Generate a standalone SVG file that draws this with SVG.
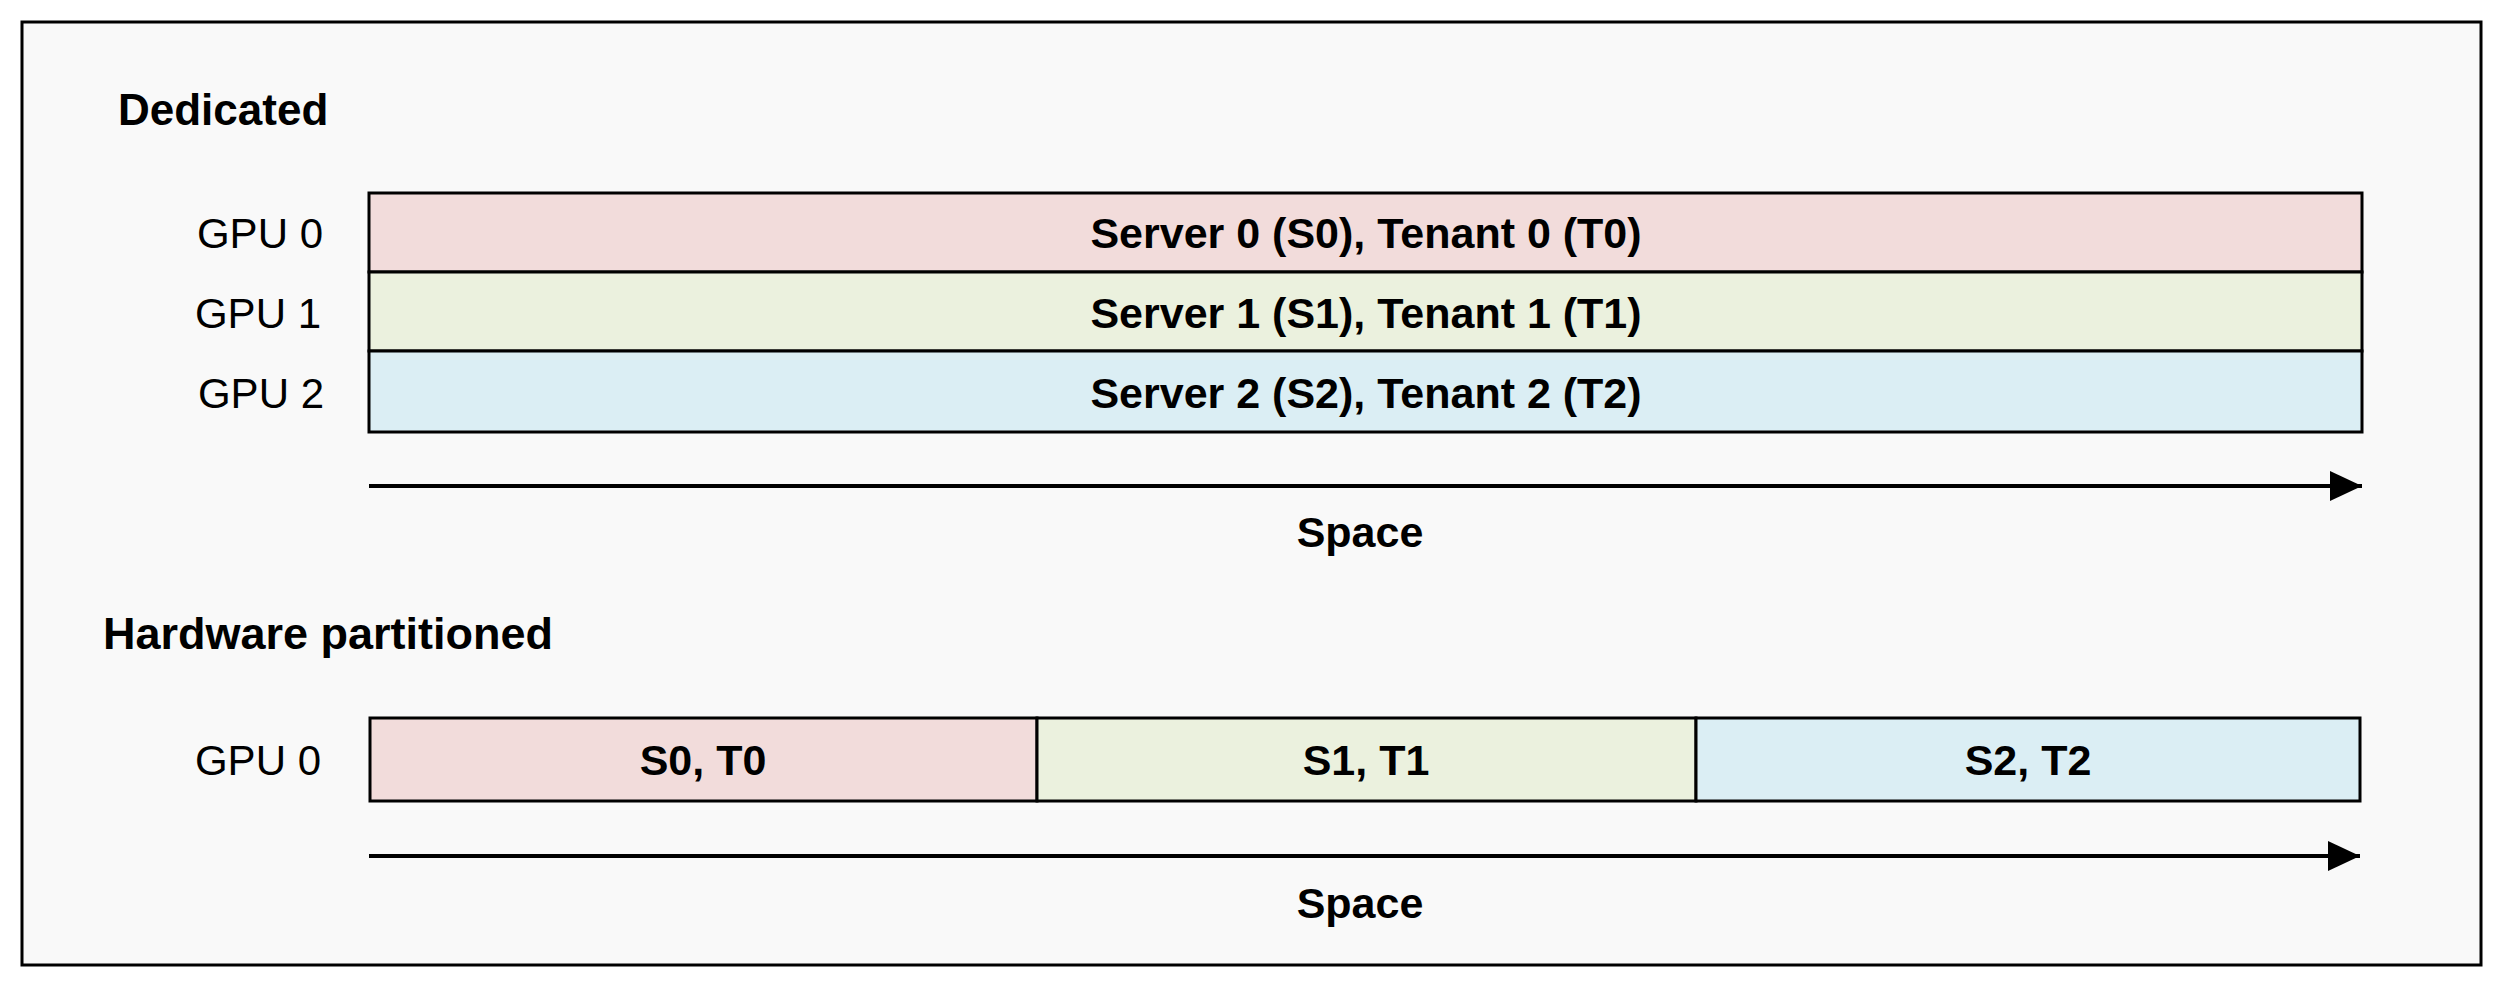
<svg xmlns="http://www.w3.org/2000/svg" width="2504" height="988" viewBox="0 0 2504 988">
<defs>
<style>
.t{font-family:"Liberation Sans",Arial,sans-serif;fill:#000}
.b{font-weight:bold;font-size:43px}
.r{font-size:42px}
.c{text-anchor:middle}
.e{text-anchor:end}
.bar{stroke:#000;stroke-width:3}
.p{fill:#f2dcdb}.g{fill:#ebf1de}.u{fill:#dbeef4}
.ax{stroke:#000;stroke-width:4;fill:none}
</style>
<marker id="ah" markerUnits="userSpaceOnUse" markerWidth="34" markerHeight="30" refX="32" refY="15" orient="auto">
<polygon points="0,0 32,15 0,30" fill="#000"/>
</marker>
</defs>
<rect x="0" y="0" width="2504" height="988" fill="#ffffff"/>
<rect id="frame" x="22" y="22" width="2459" height="943" fill="#f9f9f9" stroke="#000" stroke-width="3"/>

<text class="t b" x="118" y="125" style="font-size:44px">Dedicated</text>
<text class="t b" x="103" y="649" style="font-size:45px">Hardware partitioned</text>

<g id="gpu0-dedicated">
<rect class="bar p" x="369" y="193" width="1993" height="79"/>
<text class="t r e" x="323" y="248">GPU 0</text>
<text class="t b c" x="1366" y="248">Server 0 (S0), Tenant 0 (T0)</text>
</g>
<g id="gpu1-dedicated">
<rect class="bar g" x="369" y="272" width="1993" height="79"/>
<text class="t r e" x="321" y="328">GPU 1</text>
<text class="t b c" x="1366" y="328">Server 1 (S1), Tenant 1 (T1)</text>
</g>
<g id="gpu2-dedicated">
<rect class="bar u" x="369" y="351" width="1993" height="81"/>
<text class="t r e" x="324" y="408">GPU 2</text>
<text class="t b c" x="1366" y="408">Server 2 (S2), Tenant 2 (T2)</text>
</g>

<g id="gpu0-partitioned">
<text class="t r e" x="321" y="775">GPU 0</text>
<g id="part-s0">
<rect class="bar p" x="370" y="718" width="667" height="83"/>
<text class="t b c" x="703" y="775">S0, T0</text>
</g>
<g id="part-s1">
<rect class="bar g" x="1037" y="718" width="659" height="83"/>
<text class="t b c" x="1366" y="775">S1, T1</text>
</g>
<g id="part-s2">
<rect class="bar u" x="1696" y="718" width="664" height="83"/>
<text class="t b c" x="2028" y="775">S2, T2</text>
</g>
</g>

<g id="connectors">
<line class="ax" x1="369" y1="486" x2="2362" y2="486" marker-end="url(#ah)"/>
<line class="ax" x1="369" y1="856" x2="2360" y2="856" marker-end="url(#ah)"/>
</g>
<text class="t b c" x="1360" y="547">Space</text>
<text class="t b c" x="1360" y="918">Space</text>
</svg>
